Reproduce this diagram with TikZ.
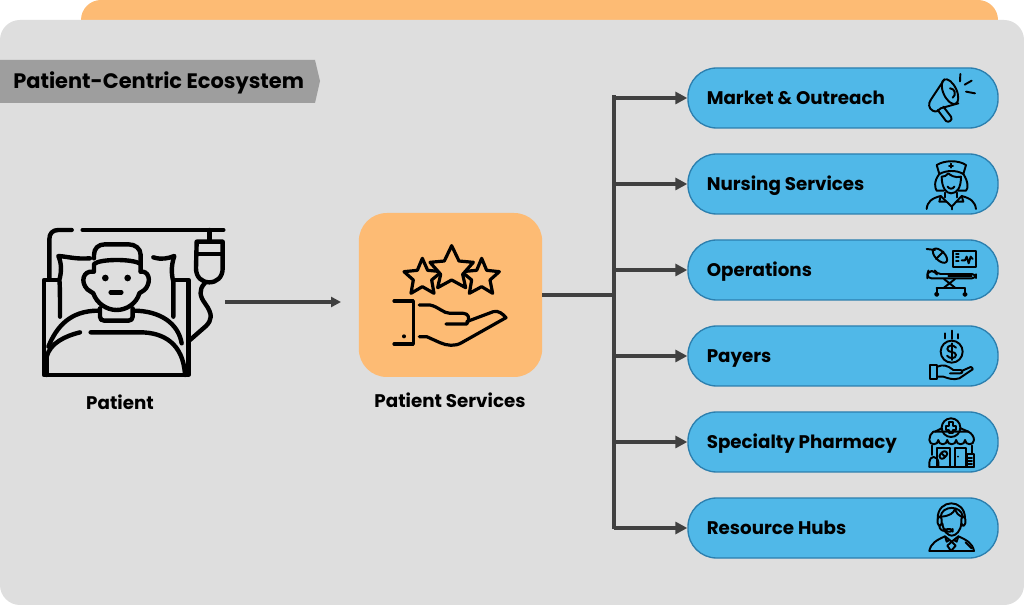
\documentclass[tikz,border=0pt]{standalone}
\usepackage{fontspec}
\setmainfont{Poppins}
\usetikzlibrary{arrows.meta,shapes.geometric}
\definecolor{panelgrey}{HTML}{DEDEDE}
\definecolor{softorange}{HTML}{FDBB74}
\definecolor{bannergrey}{HTML}{9E9E9E}
\definecolor{pillblue}{HTML}{50B8E8}
\definecolor{pilledge}{HTML}{2C7FAE}
\definecolor{linkgrey}{HTML}{404040}
\tikzset{
  pillbox/.style={draw=pilledge,line width=1pt,fill=pillblue,rounded corners=21.5pt,minimum width=232.5pt,minimum height=45pt,inner sep=0pt},
  pilltext/.style={anchor=base west,font=\bfseries\fontsize{13.7pt}{15pt}\selectfont,inner sep=0pt,text=black},
  captext/.style={anchor=base,font=\bfseries\fontsize{13.7pt}{15pt}\selectfont,inner sep=0pt,text=black},
  link/.style={draw=linkgrey,line width=2.7pt},
  linkarrow/.style={link,-{Triangle[length=9pt,width=9pt]}},
  thinlink/.style={draw=linkgrey,line width=2.5pt,-{Triangle[length=7.5pt,width=7.5pt]}},
  bigicon/.style={line width=3.3pt,line cap=round,line join=round},
  miditon/.style={line width=2.4pt,line cap=round,line join=round},
  smallicon/.style={line width=1.45pt,line cap=round,line join=round},
}
\begin{document}
\begin{tikzpicture}[x=0.75pt,y=-0.75pt]
\useasboundingbox (0,0) rectangle (1024,605);
\fill[white] (0,0) rectangle (1024,605);
% backing panels
\begin{scope}
\clip (0,0) rectangle (1024,605);
\fill[softorange,rounded corners=15pt] (81,40) -- (81,0) -- (998,0) -- (998,40) -- cycle;
\fill[panelgrey,rounded corners=15pt] (0,20) rectangle (1024,605);
\end{scope}
% banner
\fill[bannergrey] (0,60) -- (315,60) -- (320,81) -- (315,103) -- (0,103) -- cycle;
\node[anchor=base west,font=\bfseries\fontsize{15.7pt}{17pt}\selectfont,inner sep=0pt] (title) at (13,88.5) {Patient-Centric Ecosystem};

% patient icon
\coordinate (patientout) at (225,302);
\coordinate (patientin) at (341,302);
\begin{scope}[shift={(0,200)},scale=1/3,bigicon]
\draw (148,235) -- (148,118) .. controls (148,100) and (158,90) .. (175,90) -- (215,90);
\draw (248,90) -- (670,90);
\draw (628,90) -- (628,125);
\draw (590,125) -- (668,125) -- (668,205) .. controls (668,232) and (650,247) .. (628,247) .. controls (606,247) and (588,232) .. (588,205) -- cycle;
\draw (590,162) -- (666,162);
\draw (614,250) .. controls (595,270) and (600,290) .. (615,310) .. controls (640,345) and (635,360) .. (618,378) -- (570,420);
\draw (172,240) -- (132,240) -- (132,525) -- (565,525) -- (565,240) -- (525,240);
\draw (140,525) -- (140,470) .. controls (150,430) and (195,408) .. (240,397);
\draw (272,397) -- (420,397) .. controls (490,397) and (550,430) .. (555,525);
\draw (145,440) .. controls (170,380) and (210,332) .. (295,332);
\draw (400,332) .. controls (480,332) and (535,370) .. (545,430);
\draw (180,350) .. controls (180,300) and (180,250) .. (178,240) .. controls (185,215) and (185,190) .. (175,168) .. controls (205,170) and (225,178) .. (270,175);
\draw (460,172) .. controls (485,180) and (505,175) .. (523,168) .. controls (512,200) and (515,225) .. (520,245) -- (520,350);
\draw (282,175) -- (282,165) .. controls (282,145) and (295,133) .. (315,133) -- (385,133) .. controls (405,133) and (422,145) .. (422,165) -- (422,215);
\draw (282,215) -- (282,192) .. controls (300,176) and (400,176) .. (422,192);
\draw (278,215) .. controls (250,212) and (240,245) .. (262,268) .. controls (270,275) and (275,275) .. (280,280) .. controls (290,310) and (320,330) .. (350,330) .. controls (380,330) and (410,310) .. (418,280) .. controls (422,275) and (430,275) .. (438,265) .. controls (455,240) and (445,212) .. (422,215);
\draw (300,325) -- (300,350) .. controls (300,358) and (305,362) .. (313,362) -- (385,362) .. controls (393,362) and (398,358) .. (398,350) -- (398,325);
\fill (316,234) circle (10);
\fill (383,234) circle (10);
\draw (332,277) -- (364,277);
\end{scope}
\node[captext] (patientlabel) at (120,410) {Patient};

% patient services
\node[fill=softorange,rounded corners=21pt,minimum width=137.5pt,minimum height=123pt,inner sep=0pt] (services) at (450.5,295) {};
\node[captext] (serviceslabel) at (450,408) {Patient Services};
\begin{scope}[shift={(350,205)},scale=1/3,miditon]
\draw (217,160) -- (233,196) -- (275,200) -- (245,225) -- (252,265) -- (217,245) -- (183,265) -- (190,225) -- (162,200) -- (202,196) -- cycle;
\draw (395,160) -- (410,196) -- (448,200) -- (420,225) -- (428,265) -- (395,245) -- (358,265) -- (365,225) -- (335,200) -- (380,196) -- cycle;
\draw[fill=softorange] (305,122) -- (327,168) -- (370,172) -- (338,208) -- (347,248) -- (305,225) -- (263,248) -- (272,208) -- (240,172) -- (283,168) -- cycle;
\draw (132,288) -- (190,288) -- (190,417) -- (132,417);
\fill (162,394) circle (6);
\draw (208,300) -- (240,300) .. controls (265,305) and (280,325) .. (300,325) -- (340,325) .. controls (355,325) and (362,340) .. (350,357) -- (288,357);
\draw (350,350) -- (430,320) .. controls (445,315) and (460,328) .. (468,338) -- (335,413) .. controls (315,425) and (290,422) .. (270,413) -- (230,395) -- (208,395);
\end{scope}

% right column
\node[pillbox] (p1) at (843,98) {};
\node[pillbox] (p2) at (843,184) {};
\node[pillbox] (p3) at (843,270) {};
\node[pillbox] (p4) at (843,356) {};
\node[pillbox] (p5) at (843,442) {};
\node[pillbox] (p6) at (843,528) {};
\node[pilltext] (t1) at (706.5,104.5) {Market \& Outreach};
\node[pilltext] (t2) at (706.5,190.5) {Nursing Services};
\node[pilltext] (t3) at (706.5,276.5) {Operations};
\node[pilltext] (t4) at (706.5,362.5) {Payers};
\node[pilltext] (t5) at (706.5,448.5) {Specialty Pharmacy};
\node[pilltext] (t6) at (706.5,534.5) {Resource Hubs};

% connectors
\draw[thinlink] (patientout) -- (patientin);
\coordinate (bus) at (614,295);
\coordinate (bustop) at (614,97);
\coordinate (busbot) at (614,527);
\draw[link] (services.east) -- (bus);
\draw[link,line cap=rect] (bustop) -- (busbot);
\foreach \n in {1,...,6}{\draw[linkarrow] (bus |- p\n.west) -- (p\n.west);}

% megaphone
\begin{scope}[shift={(900,60)},scale=1/3,smallicon]
\draw[rotate around={25:(150,95)}] (150,95) ellipse (20 and 40);
\draw (133,58) -- (92,120) .. controls (85,130) and (85,145) .. (98,152) .. controls (108,158) and (118,152) .. (122,145) -- (175,130);
\draw (113,150) -- (138,183) .. controls (145,190) and (160,180) .. (153,170) -- (130,140);
\draw (150,85) .. controls (165,85) and (170,105) .. (158,113);
\draw (181,42) -- (180,64);
\draw (194,74) -- (215,62);
\draw (198,95) -- (225,100);
\end{scope}
% nurse
\begin{scope}[shift={(900,60)},scale=1/3,smallicon]
\draw (110,315) .. controls (135,300) and (175,300) .. (198,315) -- (190,342) .. controls (170,330) and (140,330) .. (118,342) -- cycle;
\draw (153,311) -- (153,323) (147,317) -- (159,317);
\draw (118,342) .. controls (100,365) and (105,385) .. (110,392) -- (132,392);
\draw (190,342) .. controls (205,365) and (205,385) .. (198,392) -- (175,392);
\draw (125,350) .. controls (125,385) and (140,400) .. (153,400) .. controls (170,400) and (183,385) .. (183,350) .. controls (165,355) and (150,345) .. (145,340) .. controls (140,348) and (132,350) .. (125,350);
\draw (143,380) .. controls (148,388) and (158,388) .. (163,380);
\draw (80,447) .. controls (82,425) and (95,415) .. (122,408) -- (155,440) -- (185,408) .. controls (212,415) and (225,425) .. (228,447);
\draw (122,408) -- (118,425) -- (140,425);
\draw (185,408) -- (190,425) -- (170,425);
\draw (155,440) -- (155,448);
\draw (135,398) -- (135,412);
\draw (172,398) -- (172,412);
\end{scope}
% operations
\begin{scope}[shift={(900,235)},scale=1/3,smallicon]
\draw[rotate around={-45:(120,62)},fill=none] (120,62) ellipse (27 and 14);
\draw (80,42) -- (105,45);
\draw (108,72) -- (130,50);
\draw (158,47) rectangle (228,95);
\draw (168,57) -- (176,57) (168,67) -- (176,67) (168,77) -- (176,77);
\draw (185,76) -- (195,76) -- (200,65) -- (206,85) -- (212,65) -- (218,72);
\draw[rounded corners=3pt] (82,130) -- (228,130) -- (228,117) -- (110,117) -- (105,108) -- (85,108) -- (82,118) -- cycle;
\draw (145,122) -- (215,122);
\draw (132,132) -- (165,158) (165,132) -- (132,158);
\draw (110,160) -- (195,160);
\draw (110,160) -- (110,172) (195,160) -- (195,172);
\draw (110,178) circle (5);
\draw (195,178) circle (5);
\end{scope}
% payers
\begin{scope}[shift={(900,235)},scale=1/3,smallicon]
\draw (135,295) -- (135,310) (155,287) -- (155,312) (175,297) -- (175,310);
\draw (155,350) circle (33);
\draw (168,338) .. controls (160,328) and (142,330) .. (142,342) .. controls (142,355) and (168,347) .. (168,360) .. controls (168,372) and (148,372) .. (141,362);
\draw (155,325) -- (155,375);
\draw (90,390) rectangle (112,432);
\draw (112,395) .. controls (130,388) and (140,390) .. (160,405) -- (182,405) .. controls (190,408) and (188,415) .. (180,415) -- (150,415);
\draw (185,408) -- (212,396) .. controls (216,396) and (218,400) .. (218,403) -- (178,430) .. controls (160,436) and (145,430) .. (130,425) -- (112,425);
\end{scope}
% pharmacy
\begin{scope}[shift={(900,405)},scale=1/3,smallicon]
\draw (153,68) circle (28);
\draw (147,52) -- (159,52) -- (159,62) -- (169,62) -- (169,74) -- (159,74) -- (159,84) -- (147,84) -- (147,74) -- (137,74) -- (137,62) -- (147,62) -- cycle;
\draw (105,80) -- (125,70) (205,80) -- (182,70);
\draw (100,80) -- (205,80) .. controls (215,85) and (222,95) .. (222,105)
  .. controls (222,122) and (195.2,122) .. (195.2,105)
  .. controls (195.2,122) and (168.4,122) .. (168.4,105)
  .. controls (168.4,122) and (141.6,122) .. (141.6,105)
  .. controls (141.6,122) and (114.8,122) .. (114.8,105)
  .. controls (114.8,122) and (88,122) .. (88,105)
  .. controls (88,95) and (92,85) .. (100,80);
\draw (96,122) -- (96,150);
\draw (215,122) -- (215,145);
\draw (88,185) -- (222,185);
\draw (110,128) rectangle (150,185);
\draw[rotate around={45:(130,150)},rounded corners=2pt] (117,142) rectangle (143,158);
\draw[rotate around={45:(130,150)}] (130,142) -- (130,158);
\draw (165,130) rectangle (197,185);
\fill (174,155) circle (3);
\draw (200,147) rectangle (222,185);
\draw (205,158) -- (216,158) (205,168) -- (216,168) (205,177) -- (216,177);
\draw (88,185) -- (88,172) .. controls (90,160) and (95,156) .. (101,156) .. controls (108,156) and (114,162) .. (115,172) -- (115,185);
\end{scope}
% support agent
\begin{scope}[shift={(900,405)},scale=1/3,smallicon]
\draw (113,340) .. controls (113,280) and (195,280) .. (195,340);
\draw (122,335) .. controls (125,300) and (185,300) .. (188,335);
\draw[rounded corners=2pt] (113,335) rectangle (125,362);
\draw[rounded corners=2pt] (184,335) rectangle (196,362);
\draw (125,335) .. controls (150,332) and (160,325) .. (165,312) .. controls (170,325) and (175,332) .. (184,335);
\draw (127,355) .. controls (130,380) and (145,392) .. (155,392) .. controls (168,392) and (182,378) .. (184,355);
\draw (118,362) .. controls (118,372) and (125,378) .. (135,378);
\draw[rounded corners=2pt] (135,372) rectangle (158,380);
\draw (88,438) .. controls (92,415) and (110,405) .. (135,394) -- (155,410) -- (175,394) .. controls (200,405) and (218,415) .. (222,438) -- cycle;
\draw (155,410) -- (142,422) -- (153,438) -- (167,422) -- cycle;
\draw (135,394) -- (140,410) -- (148,405);
\draw (175,394) -- (170,410) -- (162,405);
\draw (197,412) -- (215,430);
\end{scope}
\end{tikzpicture}
\end{document}
